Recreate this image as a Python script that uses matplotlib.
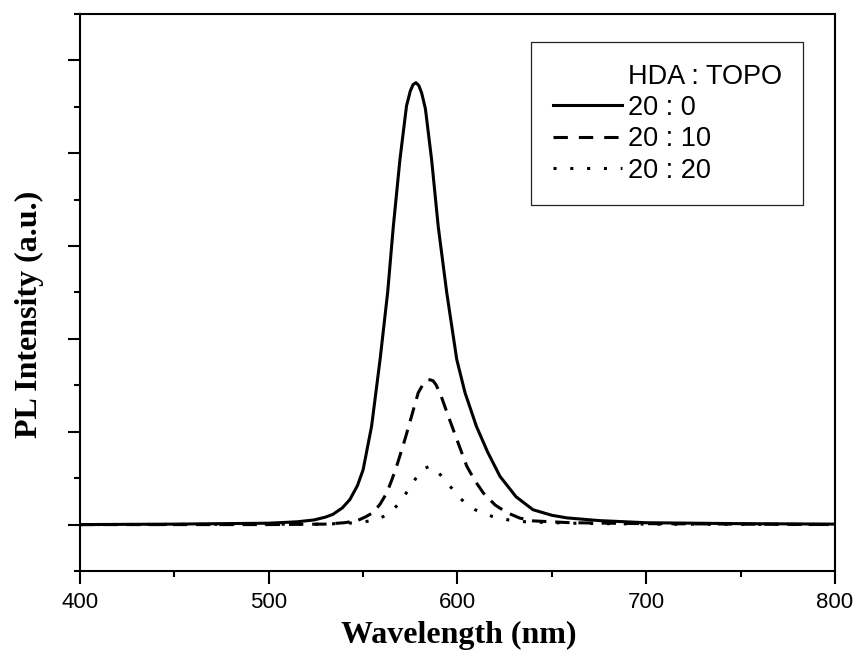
import matplotlib
matplotlib.use("Agg")
import matplotlib.pyplot as plt
from matplotlib.lines import Line2D
from matplotlib.ticker import MultipleLocator

# PL spectra (wavelength in nm, intensity in arb. units)
wl_20_0 = [400, 450, 500, 515, 524, 530, 534, 539, 543, 547, 550, 554.5, 559, 563,
           566, 569.5, 573, 575, 576.5, 578, 579.5, 581, 583, 586.3, 589.8, 594.3,
           599.6, 604, 610, 616, 622.5, 631, 640, 650, 658, 675, 700, 750, 800]
pl_20_0 = [0.0, 0.005, 0.015, 0.03, 0.05, 0.08, 0.11, 0.18, 0.27, 0.42, 0.59, 1.06,
           1.78, 2.50, 3.21, 3.93, 4.51, 4.67, 4.74, 4.76, 4.73, 4.65, 4.48, 3.93,
           3.21, 2.50, 1.78, 1.42, 1.06, 0.78, 0.52, 0.30, 0.16, 0.10, 0.072, 0.043,
           0.02, 0.01, 0.005]

wl_20_10 = [400, 500, 530, 540, 546.6, 551, 555.4, 559, 562.5, 565, 567.8, 572.2,
            575.7, 579.2, 582, 584, 585.4, 587, 588.5, 590.7, 595.1, 599.6, 604.9,
            609, 613.7, 620, 626.1, 633, 640, 660, 700, 800]
pl_20_10 = [0.0, 0.0, 0.005, 0.02, 0.04, 0.08, 0.13, 0.22, 0.34, 0.47, 0.63, 0.92,
            1.17, 1.42, 1.52, 1.555, 1.56, 1.55, 1.51, 1.42, 1.17, 0.92, 0.63, 0.48,
            0.34, 0.21, 0.13, 0.07, 0.04, 0.02, 0.01, 0.0]

wl_20_20 = [400, 530, 547, 557.2, 561, 565.1, 569, 572.2, 575, 578, 582, 585.4, 589,
            593.4, 597, 600.4, 605, 609.3, 618.1, 627, 636, 660, 700, 800]
pl_20_20 = [0.0, 0.005, 0.02, 0.05, 0.09, 0.14, 0.23, 0.32, 0.41, 0.50, 0.60, 0.63,
            0.58, 0.48, 0.39, 0.30, 0.22, 0.16, 0.09, 0.05, 0.03, 0.015, 0.005, 0.0]

labels = ["20 : 0", "20 : 10", "20 : 20"]
legend_title = "HDA : TOPO"

fig = plt.figure(figsize=(8.58, 6.57), dpi=100)
ax = fig.add_axes([0.0932, 0.1309, 0.8800, 0.8478])

lw = 2.2
ax.plot(wl_20_0, pl_20_0, color="black", lw=lw, linestyle="-")
ax.plot(wl_20_10, pl_20_10, color="black", lw=lw, linestyle=(0, (4.7, 2.9)))
ax.plot(wl_20_20, pl_20_20, color="black", lw=lw, linestyle=(0, (1, 4.5)))

ax.set_xlim(400, 800)
ax.set_ylim(-0.5, 5.5)
ax.xaxis.set_major_locator(MultipleLocator(100))
ax.xaxis.set_minor_locator(MultipleLocator(50))
ax.yaxis.set_major_locator(MultipleLocator(1))
ax.yaxis.set_minor_locator(MultipleLocator(0.5))

for sp in ax.spines.values():
    sp.set_linewidth(1.5)
ax.tick_params(which="both", direction="out", top=False, right=False, width=1.5)
ax.tick_params(which="major", length=9, pad=6)
ax.tick_params(which="minor", length=4.5)
ax.tick_params(axis="y", labelleft=False)
for t in ax.get_xticklabels():
    t.set_fontfamily("Liberation Sans")
    t.set_fontsize(16)

ax.set_xlabel("Wavelength (nm)", family="Liberation Serif", weight="bold", fontsize=23)
ax.set_ylabel("PL Intensity (a.u.)", family="Liberation Serif", weight="bold", fontsize=23)
ax.xaxis.set_label_coords(0.502, -0.09)
ax.yaxis.set_label_coords(-0.048, 0.46)

handles = [
    Line2D([], [], color="none"),
    Line2D([], [], color="black", lw=lw, linestyle="-"),
    Line2D([], [], color="black", lw=lw, linestyle=(0, (4.7, 3.6))),
    Line2D([], [], color="black", lw=lw, linestyle=(0, (1, 4.5))),
]
leg = ax.legend(handles, [legend_title] + labels, loc="upper left",
                bbox_to_anchor=(0.598, 0.950), borderaxespad=0,
                prop={"family": "Liberation Sans", "size": 19.5},
                handlelength=2.55, handletextpad=0.2, labelspacing=0.2,
                borderpad=0.8, frameon=True, fancybox=False, framealpha=1)
leg.get_frame().set_edgecolor("#222222")
leg.get_frame().set_linewidth(0.9)

fig.savefig("out.png", dpi=100)
